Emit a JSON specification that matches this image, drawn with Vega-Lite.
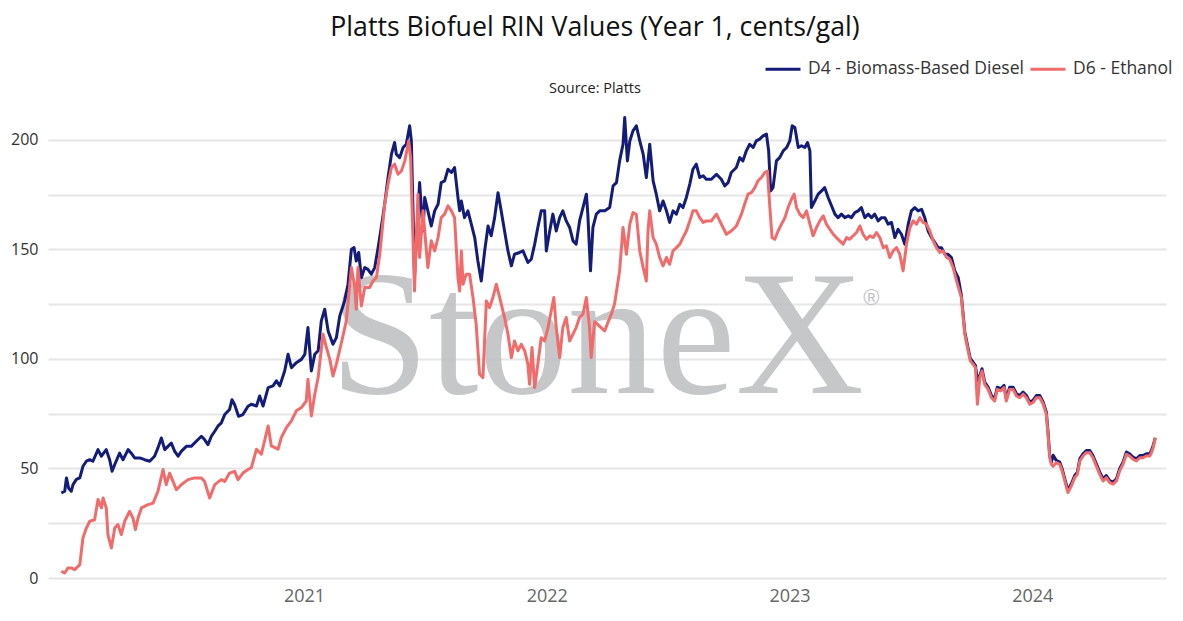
{
  "$schema": "https://vega.github.io/schema/vega-lite/v6.json",
  "width": 1118,
  "height": 471,
  "padding": {"left": 10, "top": 14, "right": 8, "bottom": 5},
  "background": "white",
  "title": {
    "text": "Platts Biofuel RIN Values (Year 1, cents/gal)",
    "subtitle": "Source: Platts",
    "font": "Open Sans",
    "fontSize": 26.7,
    "fontWeight": 500,
    "color": "#111111",
    "subtitleFont": "Open Sans",
    "subtitleFontSize": 14.5,
    "subtitleColor": "#222222",
    "subtitlePadding": 40,
    "anchor": "middle",
    "dx": -12,
    "offset": -45
  },
  "datasets": {
    "d4": [
      {"t":2020.000,"v":38.8},{"t":2020.014,"v":39.6},{"t":2020.021,"v":45.7},{"t":2020.030,"v":41},{"t":2020.041,"v":39.6},{"t":2020.048,"v":42.6},{"t":2020.062,"v":45},{"t":2020.076,"v":45.7},{"t":2020.089,"v":51},{"t":2020.103,"v":53.3},{"t":2020.117,"v":54},{"t":2020.130,"v":53.3},{"t":2020.151,"v":58.6},{"t":2020.165,"v":55.6},{"t":2020.185,"v":58.6},{"t":2020.199,"v":54},{"t":2020.209,"v":48.7},{"t":2020.220,"v":51.8},{"t":2020.240,"v":57},{"t":2020.254,"v":54},{"t":2020.275,"v":58.6},{"t":2020.288,"v":57},{"t":2020.302,"v":54.8},{"t":2020.323,"v":54.8},{"t":2020.343,"v":54},{"t":2020.364,"v":53.3},{"t":2020.384,"v":55.6},{"t":2020.398,"v":59.4},{"t":2020.412,"v":63.9},{"t":2020.426,"v":58.6},{"t":2020.439,"v":60.1},{"t":2020.453,"v":61.6},{"t":2020.467,"v":57.8},{"t":2020.481,"v":55.6},{"t":2020.494,"v":57.8},{"t":2020.515,"v":60.1},{"t":2020.535,"v":60.1},{"t":2020.556,"v":62.4},{"t":2020.577,"v":64.7},{"t":2020.590,"v":63.2},{"t":2020.604,"v":60.9},{"t":2020.618,"v":64.7},{"t":2020.632,"v":67},{"t":2020.645,"v":69.3},{"t":2020.659,"v":70.8},{"t":2020.673,"v":74.6},{"t":2020.693,"v":76.9},{"t":2020.703,"v":81.4},{"t":2020.714,"v":79.1},{"t":2020.730,"v":73.8},{"t":2020.748,"v":74.6},{"t":2020.769,"v":78.4},{"t":2020.783,"v":79.3},{"t":2020.804,"v":78.5},{"t":2020.817,"v":83.1},{"t":2020.831,"v":78.5},{"t":2020.852,"v":86.9},{"t":2020.872,"v":87.7},{"t":2020.886,"v":90},{"t":2020.900,"v":87.7},{"t":2020.920,"v":94.5},{"t":2020.934,"v":102.1},{"t":2020.948,"v":96},{"t":2020.968,"v":98.3},{"t":2020.989,"v":99.8},
      {"t":2021.003,"v":102.1},{"t":2021.016,"v":114.3},{"t":2021.030,"v":94.5},{"t":2021.044,"v":102.1},{"t":2021.058,"v":103.7},{"t":2021.071,"v":117.4},{"t":2021.085,"v":122.7},{"t":2021.099,"v":112.8},{"t":2021.119,"v":106.7},{"t":2021.133,"v":109.7},{"t":2021.147,"v":119.6},{"t":2021.167,"v":126.5},{"t":2021.181,"v":134.1},{"t":2021.195,"v":150.1},{"t":2021.206,"v":150.8},{"t":2021.215,"v":144.7},{"t":2021.225,"v":148.6},{"t":2021.236,"v":137.1},{"t":2021.250,"v":141.7},{"t":2021.263,"v":140.9},{"t":2021.277,"v":138.7},{"t":2021.291,"v":141.7},{"t":2021.305,"v":150.8},{"t":2021.318,"v":160},{"t":2021.332,"v":170.6},{"t":2021.346,"v":182.8},{"t":2021.360,"v":193.5},{"t":2021.373,"v":198.8},{"t":2021.380,"v":193.5},{"t":2021.394,"v":191.9},{"t":2021.408,"v":196.5},{"t":2021.421,"v":198},{"t":2021.435,"v":206.4},{"t":2021.442,"v":199.5},{"t":2021.455,"v":138},{"t":2021.476,"v":180.5},{"t":2021.483,"v":169},{"t":2021.490,"v":158.4},{"t":2021.497,"v":173.7},{"t":2021.510,"v":167.6},{"t":2021.524,"v":160.7},{"t":2021.538,"v":167.6},{"t":2021.552,"v":170.6},{"t":2021.565,"v":180.5},{"t":2021.579,"v":181.3},{"t":2021.593,"v":186.6},{"t":2021.607,"v":185.1},{"t":2021.620,"v":187.4},{"t":2021.634,"v":173.7},{"t":2021.641,"v":167.6},{"t":2021.648,"v":172.1},{"t":2021.661,"v":164.5},{"t":2021.675,"v":167.6},{"t":2021.689,"v":161.5},{"t":2021.703,"v":155.4},{"t":2021.716,"v":144.7},{"t":2021.730,"v":135.6},{"t":2021.744,"v":149.3},{"t":2021.758,"v":160.7},{"t":2021.771,"v":156.2},{"t":2021.785,"v":164.5},{"t":2021.799,"v":175.9},{"t":2021.812,"v":167.6},{"t":2021.826,"v":158.4},{"t":2021.840,"v":149.3},{"t":2021.854,"v":142.5},{"t":2021.867,"v":147.8},{"t":2021.888,"v":148.6},{"t":2021.902,"v":149.3},{"t":2021.922,"v":144},{"t":2021.936,"v":145.5},{"t":2021.950,"v":152.4},{"t":2021.963,"v":160},{"t":2021.977,"v":167.6},{"t":2021.991,"v":167.6},{"t":2021.998,"v":149.3},
      {"t":2022.012,"v":158.4},{"t":2022.025,"v":166.1},{"t":2022.039,"v":158.4},{"t":2022.053,"v":164.5},{"t":2022.066,"v":167.6},{"t":2022.080,"v":163},{"t":2022.094,"v":160},{"t":2022.108,"v":153.9},{"t":2022.121,"v":152.4},{"t":2022.135,"v":163},{"t":2022.149,"v":169.1},{"t":2022.163,"v":175.2},{"t":2022.169,"v":166.1},{"t":2022.180,"v":140.2},{"t":2022.190,"v":160},{"t":2022.204,"v":166.1},{"t":2022.218,"v":167.6},{"t":2022.239,"v":167.6},{"t":2022.259,"v":169.1},{"t":2022.273,"v":179},{"t":2022.287,"v":180.5},{"t":2022.300,"v":190.4},{"t":2022.314,"v":198},{"t":2022.321,"v":210.2},{"t":2022.332,"v":190.4},{"t":2022.342,"v":199.5},{"t":2022.355,"v":204.1},{"t":2022.369,"v":206.4},{"t":2022.383,"v":199.5},{"t":2022.397,"v":193.5},{"t":2022.410,"v":182.8},{"t":2022.424,"v":198},{"t":2022.438,"v":181.3},{"t":2022.451,"v":175.2},{"t":2022.465,"v":167.6},{"t":2022.479,"v":172.1},{"t":2022.493,"v":167.6},{"t":2022.506,"v":162.3},{"t":2022.520,"v":167.6},{"t":2022.534,"v":166.1},{"t":2022.548,"v":170.6},{"t":2022.561,"v":169.1},{"t":2022.575,"v":173.7},{"t":2022.589,"v":179.8},{"t":2022.602,"v":186.6},{"t":2022.616,"v":188.9},{"t":2022.630,"v":182.8},{"t":2022.644,"v":183.6},{"t":2022.657,"v":182},{"t":2022.678,"v":182},{"t":2022.699,"v":184.3},{"t":2022.719,"v":182},{"t":2022.733,"v":179},{"t":2022.747,"v":180.5},{"t":2022.760,"v":185.1},{"t":2022.781,"v":187.4},{"t":2022.795,"v":191.9},{"t":2022.808,"v":190.4},{"t":2022.822,"v":195},{"t":2022.836,"v":198},{"t":2022.850,"v":196.5},{"t":2022.863,"v":199.5},{"t":2022.877,"v":200.3},{"t":2022.891,"v":201.8},{"t":2022.905,"v":202.6},{"t":2022.914,"v":195},{"t":2022.922,"v":176.7},{"t":2022.932,"v":178.2},{"t":2022.946,"v":190.4},{"t":2022.960,"v":192},{"t":2022.974,"v":195},{"t":2022.988,"v":196.5},
      {"t":2023.001,"v":199.5},{"t":2023.011,"v":206.4},{"t":2023.022,"v":205.6},{"t":2023.036,"v":196.5},{"t":2023.049,"v":197.3},{"t":2023.063,"v":196.5},{"t":2023.074,"v":198.8},{"t":2023.084,"v":195},{"t":2023.090,"v":169.1},{"t":2023.104,"v":172.1},{"t":2023.118,"v":175.2},{"t":2023.132,"v":176.7},{"t":2023.145,"v":178.2},{"t":2023.159,"v":173.7},{"t":2023.173,"v":169.9},{"t":2023.187,"v":166.1},{"t":2023.200,"v":164.5},{"t":2023.214,"v":166.1},{"t":2023.228,"v":164.5},{"t":2023.242,"v":165.3},{"t":2023.255,"v":164.5},{"t":2023.269,"v":166.8},{"t":2023.283,"v":167.6},{"t":2023.296,"v":169.1},{"t":2023.310,"v":164.5},{"t":2023.324,"v":166.1},{"t":2023.338,"v":164.5},{"t":2023.351,"v":166.1},{"t":2023.365,"v":163},{"t":2023.379,"v":164.5},{"t":2023.393,"v":164.5},{"t":2023.406,"v":161.5},{"t":2023.420,"v":162.3},{"t":2023.434,"v":155.4},{"t":2023.447,"v":159.2},{"t":2023.461,"v":156.9},{"t":2023.475,"v":152.4},{"t":2023.489,"v":161.5},{"t":2023.502,"v":167.6},{"t":2023.516,"v":169.1},{"t":2023.530,"v":167.6},{"t":2023.544,"v":168.3},{"t":2023.557,"v":164.5},{"t":2023.571,"v":158.4},{"t":2023.585,"v":155.4},{"t":2023.599,"v":153.1},{"t":2023.612,"v":150.8},{"t":2023.626,"v":150.8},{"t":2023.640,"v":147.8},{"t":2023.653,"v":147.8},{"t":2023.667,"v":146.3},{"t":2023.681,"v":140.2},{"t":2023.695,"v":137.1},{"t":2023.708,"v":129},{"t":2023.722,"v":112.3},{"t":2023.736,"v":104.7},{"t":2023.745,"v":100.1},{"t":2023.756,"v":98.6},{"t":2023.766,"v":97},{"t":2023.774,"v":90},{"t":2023.784,"v":92.5},{"t":2023.793,"v":95.5},{"t":2023.804,"v":89.4},{"t":2023.818,"v":87.1},{"t":2023.832,"v":83.3},{"t":2023.845,"v":81.8},{"t":2023.856,"v":87.1},{"t":2023.870,"v":86.4},{"t":2023.884,"v":87.9},{"t":2023.893,"v":81.8},{"t":2023.907,"v":87.1},{"t":2023.921,"v":87.1},{"t":2023.935,"v":84.1},{"t":2023.948,"v":83.3},{"t":2023.962,"v":84.9},{"t":2023.976,"v":83.3},{"t":2023.990,"v":80.3},
      {"t":2024.003,"v":81.1},{"t":2024.017,"v":83.3},{"t":2024.031,"v":83.3},{"t":2024.045,"v":80.3},{"t":2024.058,"v":75.7},{"t":2024.065,"v":66.6},{"t":2024.072,"v":55.9},{"t":2024.079,"v":52.9},{"t":2024.086,"v":56},{"t":2024.099,"v":53.7},{"t":2024.113,"v":52.9},{"t":2024.123,"v":49.9},{"t":2024.134,"v":45.3},{"t":2024.147,"v":40},{"t":2024.161,"v":43},{"t":2024.175,"v":46.8},{"t":2024.186,"v":48.3},{"t":2024.196,"v":54.4},{"t":2024.209,"v":56.7},{"t":2024.223,"v":58.2},{"t":2024.237,"v":58.2},{"t":2024.250,"v":55.9},{"t":2024.264,"v":52.1},{"t":2024.278,"v":48.3},{"t":2024.292,"v":45.3},{"t":2024.305,"v":46.8},{"t":2024.319,"v":44.5},{"t":2024.333,"v":43.8},{"t":2024.347,"v":45.3},{"t":2024.360,"v":49.9},{"t":2024.374,"v":52.9},{"t":2024.388,"v":57.5},{"t":2024.401,"v":56.7},{"t":2024.415,"v":55.2},{"t":2024.429,"v":54.4},{"t":2024.443,"v":55.9},{"t":2024.456,"v":55.9},{"t":2024.470,"v":56.7},{"t":2024.484,"v":56.7},{"t":2024.491,"v":58.2},{"t":2024.498,"v":60.5},{"t":2024.507,"v":64}
    ],
    "d6": [
      {"t":2020.000,"v":3},{"t":2020.014,"v":2.3},{"t":2020.027,"v":4.6},{"t":2020.041,"v":4.6},{"t":2020.055,"v":3.8},{"t":2020.076,"v":6.1},{"t":2020.089,"v":18.3},{"t":2020.103,"v":22.8},{"t":2020.117,"v":25.9},{"t":2020.137,"v":26.6},{"t":2020.151,"v":35.8},{"t":2020.165,"v":32},{"t":2020.172,"v":36.5},{"t":2020.185,"v":32},{"t":2020.192,"v":19.8},{"t":2020.206,"v":13.7},{"t":2020.220,"v":22.8},{"t":2020.233,"v":24.4},{"t":2020.247,"v":19.8},{"t":2020.261,"v":25.9},{"t":2020.281,"v":30.4},{"t":2020.295,"v":27.4},{"t":2020.305,"v":22.1},{"t":2020.316,"v":27.4},{"t":2020.330,"v":32},{"t":2020.357,"v":33.5},{"t":2020.378,"v":34.2},{"t":2020.398,"v":39.6},{"t":2020.419,"v":49.5},{"t":2020.432,"v":42.6},{"t":2020.446,"v":47.9},{"t":2020.460,"v":44.1},{"t":2020.474,"v":40.3},{"t":2020.494,"v":42.6},{"t":2020.522,"v":44.9},{"t":2020.549,"v":45.7},{"t":2020.577,"v":45.7},{"t":2020.590,"v":44.1},{"t":2020.611,"v":36.5},{"t":2020.632,"v":42.6},{"t":2020.659,"v":44.9},{"t":2020.673,"v":44.1},{"t":2020.693,"v":47.9},{"t":2020.714,"v":48.7},{"t":2020.728,"v":44.9},{"t":2020.748,"v":47.9},{"t":2020.769,"v":49.5},{"t":2020.783,"v":50.4},{"t":2020.804,"v":58.8},{"t":2020.824,"v":56.5},{"t":2020.852,"v":69.4},{"t":2020.865,"v":60.3},{"t":2020.893,"v":58.8},{"t":2020.906,"v":64.1},{"t":2020.927,"v":68.6},{"t":2020.948,"v":71.7},{"t":2020.968,"v":76.3},{"t":2020.989,"v":77.8},
      {"t":2021.009,"v":80.8},{"t":2021.016,"v":90.7},{"t":2021.030,"v":74},{"t":2021.044,"v":83.9},{"t":2021.058,"v":91.5},{"t":2021.078,"v":111.3},{"t":2021.092,"v":105.2},{"t":2021.106,"v":99.8},{"t":2021.119,"v":92.2},{"t":2021.133,"v":97.6},{"t":2021.154,"v":107.5},{"t":2021.174,"v":117.4},{"t":2021.195,"v":141.7},{"t":2021.209,"v":132.6},{"t":2021.215,"v":122.7},{"t":2021.222,"v":141.7},{"t":2021.236,"v":124.2},{"t":2021.250,"v":132.6},{"t":2021.270,"v":132.6},{"t":2021.284,"v":135.6},{"t":2021.298,"v":137.1},{"t":2021.312,"v":147.8},{"t":2021.332,"v":170.6},{"t":2021.346,"v":179.8},{"t":2021.360,"v":187.4},{"t":2021.373,"v":188.9},{"t":2021.387,"v":184.3},{"t":2021.401,"v":185.8},{"t":2021.415,"v":190.4},{"t":2021.431,"v":199.5},{"t":2021.439,"v":191.9},{"t":2021.455,"v":131},{"t":2021.469,"v":175.2},{"t":2021.476,"v":146.3},{"t":2021.490,"v":167.6},{"t":2021.504,"v":149.3},{"t":2021.510,"v":141.7},{"t":2021.524,"v":153.9},{"t":2021.538,"v":149.3},{"t":2021.552,"v":155.4},{"t":2021.565,"v":164.5},{"t":2021.579,"v":166.1},{"t":2021.593,"v":169.9},{"t":2021.607,"v":167.6},{"t":2021.620,"v":164.5},{"t":2021.634,"v":137.1},{"t":2021.641,"v":131},{"t":2021.648,"v":149.3},{"t":2021.655,"v":134.1},{"t":2021.668,"v":138.7},{"t":2021.682,"v":138.7},{"t":2021.696,"v":128},{"t":2021.709,"v":115.8},{"t":2021.723,"v":93},{"t":2021.737,"v":91.5},{"t":2021.751,"v":126.5},{"t":2021.764,"v":123.4},{"t":2021.778,"v":128},{"t":2021.792,"v":134.1},{"t":2021.806,"v":128},{"t":2021.826,"v":118.9},{"t":2021.840,"v":111.3},{"t":2021.854,"v":100.6},{"t":2021.867,"v":108.2},{"t":2021.881,"v":103.7},{"t":2021.895,"v":106.7},{"t":2021.909,"v":103.7},{"t":2021.922,"v":97.6},{"t":2021.929,"v":88.4},{"t":2021.939,"v":105.2},{"t":2021.950,"v":86.9},{"t":2021.963,"v":97.6},{"t":2021.977,"v":109.7},{"t":2021.991,"v":108.2},
      {"t":2022.005,"v":114.3},{"t":2022.018,"v":121.9},{"t":2022.029,"v":128},{"t":2022.039,"v":114.3},{"t":2022.053,"v":100.6},{"t":2022.066,"v":114.3},{"t":2022.080,"v":118.9},{"t":2022.094,"v":108.2},{"t":2022.108,"v":111.3},{"t":2022.121,"v":114.3},{"t":2022.135,"v":118.9},{"t":2022.149,"v":120.4},{"t":2022.163,"v":128},{"t":2022.176,"v":114.3},{"t":2022.183,"v":100.6},{"t":2022.197,"v":117},{"t":2022.238,"v":112.8},{"t":2022.266,"v":120.5},{"t":2022.279,"v":125},{"t":2022.300,"v":140.2},{"t":2022.314,"v":160},{"t":2022.328,"v":147.8},{"t":2022.342,"v":161.5},{"t":2022.355,"v":166.8},{"t":2022.369,"v":165.9},{"t":2022.383,"v":149.3},{"t":2022.397,"v":141.7},{"t":2022.410,"v":135.6},{"t":2022.417,"v":158.4},{"t":2022.424,"v":167.6},{"t":2022.438,"v":155.4},{"t":2022.451,"v":152.4},{"t":2022.465,"v":146.3},{"t":2022.479,"v":142.5},{"t":2022.493,"v":146.3},{"t":2022.506,"v":143.2},{"t":2022.520,"v":149.3},{"t":2022.534,"v":150.8},{"t":2022.548,"v":152.4},{"t":2022.561,"v":155.4},{"t":2022.575,"v":158.4},{"t":2022.589,"v":163},{"t":2022.602,"v":167.6},{"t":2022.616,"v":167.6},{"t":2022.630,"v":164.5},{"t":2022.644,"v":162.3},{"t":2022.657,"v":163},{"t":2022.678,"v":163},{"t":2022.699,"v":166.1},{"t":2022.719,"v":161.5},{"t":2022.740,"v":156.9},{"t":2022.760,"v":158.4},{"t":2022.781,"v":160.7},{"t":2022.802,"v":166.1},{"t":2022.815,"v":170.6},{"t":2022.829,"v":175.2},{"t":2022.843,"v":175.9},{"t":2022.857,"v":178.2},{"t":2022.870,"v":181.3},{"t":2022.884,"v":182.8},{"t":2022.898,"v":185.1},{"t":2022.909,"v":185.8},{"t":2022.918,"v":170.6},{"t":2022.928,"v":155.4},{"t":2022.939,"v":154.6},{"t":2022.953,"v":158.4},{"t":2022.967,"v":161.5},{"t":2022.981,"v":164.5},{"t":2022.994,"v":169.1},
      {"t":2023.008,"v":172.9},{"t":2023.019,"v":175.2},{"t":2023.029,"v":169.1},{"t":2023.042,"v":166.1},{"t":2023.056,"v":164.5},{"t":2023.070,"v":167.6},{"t":2023.084,"v":161.5},{"t":2023.097,"v":156.2},{"t":2023.111,"v":160},{"t":2023.125,"v":163},{"t":2023.139,"v":165.3},{"t":2023.152,"v":161.5},{"t":2023.166,"v":159.2},{"t":2023.180,"v":156.9},{"t":2023.193,"v":155.4},{"t":2023.207,"v":153.9},{"t":2023.221,"v":152.4},{"t":2023.235,"v":155.4},{"t":2023.248,"v":154.6},{"t":2023.262,"v":156.2},{"t":2023.276,"v":157.7},{"t":2023.290,"v":160.7},{"t":2023.303,"v":156.9},{"t":2023.317,"v":154.6},{"t":2023.331,"v":156.2},{"t":2023.345,"v":155.4},{"t":2023.358,"v":157.7},{"t":2023.372,"v":155.4},{"t":2023.386,"v":150.8},{"t":2023.399,"v":151.6},{"t":2023.413,"v":146.3},{"t":2023.427,"v":149.3},{"t":2023.441,"v":150.8},{"t":2023.454,"v":147.8},{"t":2023.468,"v":140.2},{"t":2023.482,"v":152.4},{"t":2023.496,"v":160},{"t":2023.509,"v":163},{"t":2023.523,"v":161.5},{"t":2023.537,"v":164.5},{"t":2023.550,"v":162.3},{"t":2023.564,"v":161.5},{"t":2023.578,"v":158.4},{"t":2023.592,"v":153.9},{"t":2023.605,"v":150.8},{"t":2023.619,"v":148.6},{"t":2023.633,"v":149.3},{"t":2023.647,"v":146.3},{"t":2023.660,"v":145.5},{"t":2023.674,"v":141.7},{"t":2023.688,"v":135.6},{"t":2023.708,"v":128},{"t":2023.722,"v":111.3},{"t":2023.736,"v":103.7},{"t":2023.745,"v":99.1},{"t":2023.756,"v":97.6},{"t":2023.766,"v":96},{"t":2023.774,"v":79.3},{"t":2023.784,"v":91.5},{"t":2023.793,"v":94.5},{"t":2023.804,"v":88.4},{"t":2023.818,"v":86.1},{"t":2023.832,"v":82.3},{"t":2023.845,"v":80.8},{"t":2023.856,"v":86.1},{"t":2023.870,"v":85.4},{"t":2023.884,"v":86.9},{"t":2023.893,"v":80.8},{"t":2023.907,"v":86.1},{"t":2023.921,"v":86.1},{"t":2023.935,"v":83.1},{"t":2023.948,"v":82.3},{"t":2023.962,"v":83.9},{"t":2023.976,"v":82.3},{"t":2023.990,"v":79.3},
      {"t":2024.003,"v":80.1},{"t":2024.017,"v":82.3},{"t":2024.031,"v":82.3},{"t":2024.045,"v":79.3},{"t":2024.058,"v":74.7},{"t":2024.065,"v":65.6},{"t":2024.072,"v":54.9},{"t":2024.079,"v":51.9},{"t":2024.086,"v":51},{"t":2024.099,"v":52.7},{"t":2024.113,"v":51.9},{"t":2024.123,"v":48.9},{"t":2024.134,"v":44.3},{"t":2024.147,"v":39},{"t":2024.161,"v":42},{"t":2024.175,"v":45.8},{"t":2024.186,"v":47.3},{"t":2024.196,"v":53.4},{"t":2024.209,"v":55.7},{"t":2024.223,"v":57.2},{"t":2024.237,"v":57.2},{"t":2024.250,"v":54.9},{"t":2024.264,"v":51.1},{"t":2024.278,"v":47.3},{"t":2024.292,"v":44.3},{"t":2024.305,"v":45.8},{"t":2024.319,"v":43.5},{"t":2024.333,"v":42.8},{"t":2024.347,"v":44.3},{"t":2024.360,"v":48.9},{"t":2024.374,"v":51.9},{"t":2024.388,"v":56.5},{"t":2024.401,"v":55.7},{"t":2024.415,"v":54.2},{"t":2024.429,"v":53.4},{"t":2024.443,"v":54.9},{"t":2024.456,"v":54.9},{"t":2024.470,"v":55.7},{"t":2024.484,"v":55.7},{"t":2024.491,"v":57.2},{"t":2024.498,"v":59.5},{"t":2024.507,"v":64.1}
    ]
  },
  "layer": [
    {
      "data": {"values": [{}]},
      "mark": {"type": "text", "text": "StoneX", "font": "Liberation Serif", "fontSize": 178, "color": "#bfc1c4", "opacity": 0.9, "align": "center", "baseline": "alphabetic"},
      "encoding": {
        "x": {"datum": 2022.207, "type": "quantitative", "scale": {"domain": [2019.945, 2024.551], "nice": false, "zero": false}},
        "y": {"datum": 84.5, "type": "quantitative", "scale": {"domain": [0, 215], "nice": false}}
      }
    },
    {
      "data": {"values": [{}]},
      "mark": {"type": "text", "text": "®", "font": "Liberation Sans", "fontSize": 22, "color": "#bfc1c4", "align": "center", "baseline": "middle"},
      "encoding": {
        "x": {"datum": 2023.337, "type": "quantitative"},
        "y": {"datum": 127.8, "type": "quantitative"}
      }
    },
    {
      "data": {"name": "d4"},
      "mark": {"type": "line", "strokeWidth": 3, "strokeJoin": "round"},
      "encoding": {
        "x": {"field": "t", "type": "quantitative", "scale": {"domain": [2019.945, 2024.551], "nice": false, "zero": false},
          "axis": {"values": [2021, 2022, 2023, 2024], "format": "d", "title": null, "grid": false, "domain": false, "ticks": false, "labelFontSize": 18, "labelColor": "#666666", "labelPadding": 9, "labelFont": "Open Sans"}},
        "y": {"field": "v", "type": "quantitative", "scale": {"domain": [0, 215], "nice": false},
          "axis": {"values": [0, 25, 50, 75, 100, 125, 150, 175, 200], "labelExpr": "datum.value % 50 === 0 ? datum.label : ''", "title": null, "grid": true, "gridColor": "#e6e6e6", "gridWidth": 2, "domain": false, "ticks": false, "labelFontSize": 16, "labelColor": "#333333", "labelPadding": 10, "labelFont": "Open Sans"}},
        "color": {"datum": "D4 - Biomass-Based Diesel", "type": "nominal",
          "scale": {"domain": ["D4 - Biomass-Based Diesel", "D6 - Ethanol"], "range": ["#141c7a", "#f26b6b"]},
          "legend": {"title": null, "orient": "none", "legendX": 716, "legendY": -57, "direction": "horizontal", "symbolType": "stroke", "symbolStrokeWidth": 3, "symbolSize": 1225, "labelFontSize": 17.5, "labelColor": "#333333", "labelFont": "Open Sans", "labelLimit": 0, "columnPadding": 0, "labelOffset": 6}}
      }
    },
    {
      "data": {"name": "d6"},
      "mark": {"type": "line", "strokeWidth": 3, "strokeJoin": "round"},
      "encoding": {
        "x": {"field": "t", "type": "quantitative"},
        "y": {"field": "v", "type": "quantitative"},
        "color": {"datum": "D6 - Ethanol", "type": "nominal"}
      }
    }
  ],
  "config": {
    "view": {"stroke": null},
    "font": "Open Sans"
  }
}
